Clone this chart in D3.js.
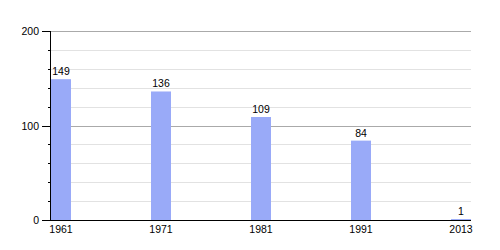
<!DOCTYPE html>
<html>
<head>
<meta charset="utf-8">
<script src="https://cdn.jsdelivr.net/npm/d3@7"></script>
<style>
  body { margin: 0; background: #fff; }
  svg { display: block; font-family: "Liberation Sans", Arial, sans-serif; }
</style>
</head>
<body>
<div id="chart"></div>
<script>
const years = ['1961', '1971', '1981', '1991', '2013'];
const population = [149, 136, 109, 84, 1];
const majorTicks = [0, 100, 200];
const minorTicks = [20, 40, 60, 80, 120, 140, 160, 180];

const W = 500, H = 250;
const mLeft = 50, mRight = 471, mTop = 31, mBottom = 220;
const fs = 10.5;

const svg = d3.select('#chart').append('svg')
    .attr('width', W)
    .attr('height', H);

const x = d3.scalePoint()
    .domain(years)
    .range([61, 461]);

const y = d3.scaleLinear()
    .domain([0, 200])
    .range([mBottom, mTop]);

// grid
svg.append('g').selectAll('line')
    .data(minorTicks)
    .join('line')
    .attr('x1', mLeft).attr('x2', mRight)
    .attr('y1', d => Math.round(y(d)) + 0.5)
    .attr('y2', d => Math.round(y(d)) + 0.5)
    .attr('stroke', '#e2e2e2');

svg.append('g').selectAll('line')
    .data(majorTicks.filter(d => d > 0))
    .join('line')
    .attr('x1', mLeft).attr('x2', mRight)
    .attr('y1', d => Math.round(y(d)) + 0.5)
    .attr('y2', d => Math.round(y(d)) + 0.5)
    .attr('stroke', '#aaaaaa');

// bars
const barW = 20;
svg.append('g').selectAll('rect')
    .data(population)
    .join('rect')
    .attr('x', (d, i) => x(years[i]) - barW / 2)
    .attr('y', d => y(d))
    .attr('width', barW)
    .attr('height', d => y(0) - y(d))
    .attr('fill', '#99aaf8');

svg.append('g').selectAll('text')
    .data(population)
    .join('text')
    .attr('x', (d, i) => x(years[i]))
    .attr('y', d => y(d) - 4)
    .attr('text-anchor', 'middle')
    .attr('font-size', fs)
    .attr('fill', '#000')
    .text(d => d);

// y axis
const yAxis = svg.append('g');
yAxis.append('line')
    .attr('x1', mLeft + 0.5).attr('x2', mLeft + 0.5)
    .attr('y1', mTop).attr('y2', mBottom)
    .attr('stroke', '#000');
yAxis.selectAll('.minor')
    .data(minorTicks)
    .join('line')
    .attr('class', 'minor')
    .attr('x1', mLeft - 2).attr('x2', mLeft)
    .attr('y1', d => Math.round(y(d)) + 0.5)
    .attr('y2', d => Math.round(y(d)) + 0.5)
    .attr('stroke', '#000');
yAxis.selectAll('.major')
    .data(majorTicks)
    .join('line')
    .attr('class', 'major')
    .attr('x1', mLeft - 8).attr('x2', mLeft)
    .attr('y1', d => Math.round(y(d)) + 0.5)
    .attr('y2', d => Math.round(y(d)) + 0.5)
    .attr('stroke', '#000');
yAxis.selectAll('text')
    .data(majorTicks)
    .join('text')
    .attr('x', mLeft - 11)
    .attr('y', d => y(d) + 4)
    .attr('text-anchor', 'end')
    .attr('font-size', fs)
    .text(d => d);

// x axis
svg.append('line')
    .attr('x1', mLeft).attr('x2', mRight)
    .attr('y1', mBottom + 0.5).attr('y2', mBottom + 0.5)
    .attr('stroke', '#000');

svg.append('g').selectAll('text')
    .data(years)
    .join('text')
    .attr('x', d => x(d))
    .attr('y', mBottom + 13)
    .attr('text-anchor', 'middle')
    .attr('font-size', fs)
    .text(d => d);
</script>
</body>
</html>
